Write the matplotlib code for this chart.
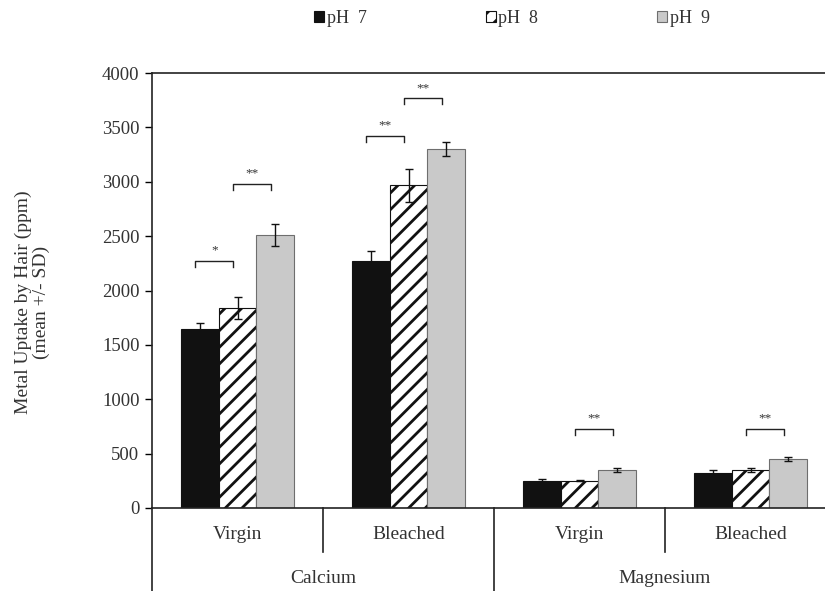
import numpy as np
import matplotlib
matplotlib.use('Agg')
import matplotlib.pyplot as plt
from matplotlib.patches import Patch

# data
metals = ['Calcium', 'Magnesium']
hair_types = ['Virgin', 'Bleached']
ph_labels = ['pH  7', 'pH  8', 'pH  9']

# rows: Ca virgin, Ca bleached, Mg virgin, Mg bleached ; cols: pH 7, 8, 9
means = np.array([[1643, 1839, 2510],
                  [2271, 2967, 3304],
                  [251, 251, 349],
                  [322, 346, 447]])
sds = np.array([[60, 100, 100],
                [90, 150, 65],
                [13, 6, 16],
                [24, 18, 18]])

# significance brackets: (group, bar a, bar b, height, label)
brackets = [(0, 0, 1, 2270, '*'),
            (0, 1, 2, 2980, '**'),
            (1, 0, 1, 3421, '**'),
            (1, 1, 2, 3767, '**'),
            (2, 1, 2, 726, '**'),
            (3, 1, 2, 726, '**')]

plt.rcParams['font.family'] = ['Liberation Serif', 'DejaVu Serif']
plt.rcParams['hatch.linewidth'] = 2.0
txt = '#333333'

W, H = 825, 591
fig = plt.figure(figsize=(W / 100, H / 100), dpi=100)
x0, x1, ytop, ybot = 152, 825, 73, 508
ax = fig.add_axes([x0 / W, 1 - ybot / H, (x1 - x0) / W, (ybot - ytop) / H])

bw = 0.222
fills = ['#111111', 'white', '#c9c9c9']
edges = ['#111111', '#111111', '#6e6e6e']
hatches = [None, '//', None]
groups = np.arange(len(means))
for k in range(3):
    xs = groups + (k - 1) * bw
    ax.bar(xs, means[:, k], bw, color=fills[k], edgecolor=edges[k],
           hatch=hatches[k], linewidth=0.8, zorder=2)
    ax.errorbar(xs, means[:, k], yerr=sds[:, k], fmt='none', ecolor='#111111',
                elinewidth=1.0, capsize=3, capthick=1.0, zorder=3)

for g, a, b, yv, lab in brackets:
    xa = g + (a - 1) * bw - 0.025
    xb = g + (b - 1) * bw - 0.025
    ax.plot([xa, xa, xb, xb], [yv - 55, yv, yv, yv - 55], color='#222222', lw=1.0)
    ax.text((xa + xb) / 2, yv + 40, lab, ha='center', va='bottom', fontsize=9.5, color=txt)

ax.set_xlim(-0.5, -0.5 + (x1 - x0) / 171)
ax.set_ylim(0, 4000)
ax.set_yticks(np.arange(0, 4001, 500))
ax.set_xticks([])
ax.tick_params(axis='y', direction='out', length=5, width=1, labelsize=13.5, labelcolor=txt, pad=4)
ax.spines['right'].set_visible(False)
for s in ['left', 'top', 'bottom']:
    ax.spines[s].set_linewidth(1.2)
    ax.spines[s].set_color('#222222')

fig.text(32 / W, 1 - 302 / H, 'Metal Uptake by Hair (ppm)\n(mean +/- SD)', rotation=90,
         ha='center', va='center', multialignment='center', fontsize=14, color=txt,
         linespacing=1.05)

# two-level category axis below the plot
trans = ax.get_xaxis_transform()
ax.plot([-0.5, -0.5], [0, -0.2], transform=trans, color='#222222', lw=1.2, clip_on=False)
for xd in [0.5, 2.5]:
    ax.plot([xd, xd], [0, -0.102], transform=trans, color='#222222', lw=1.2, clip_on=False)
ax.plot([1.5, 1.5], [0, -0.2], transform=trans, color='#222222', lw=1.2, clip_on=False)
for g in groups:
    ax.text(g, -0.06, hair_types[g % 2], transform=trans, ha='center', va='center',
            fontsize=14, color=txt)
for m, name in enumerate(metals):
    ax.text(2 * m + 0.5, -0.163, name, transform=trans, ha='center', va='center',
            fontsize=14, color=txt)

handles = [Patch(facecolor=fills[k], edgecolor=edges[k], hatch=hatches[k], linewidth=0.8)
           for k in range(3)]
fig.legend(handles, ph_labels, loc='upper center', bbox_to_anchor=(512 / W, 1 - 3 / H),
           borderaxespad=0, ncol=3, frameon=False, fontsize=13, handlelength=0.55,
           handleheight=0.55, handletextpad=0.15, columnspacing=6.6, labelcolor=txt)

fig.savefig('out.png', dpi=100)
